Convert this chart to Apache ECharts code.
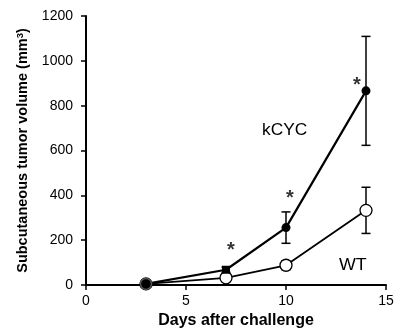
<!DOCTYPE html>
<html><head><meta charset="utf-8">
<script src="https://cdn.jsdelivr.net/npm/echarts@6/dist/echarts.min.js"></script>
<style>html,body{margin:0;padding:0;background:#fff}#c{width:395px;height:329px}</style>
</head><body><div id="c"></div>
<script>
var days = [3, 7, 10, 14];
var kcycMean = [5, 68, 256, 866];
var kcycErr = [3, 12, 70, 243];
var wtMean = [5, 32, 88, 333];
var wtErr = [3, 8, 20, 103];
var starX = [7.25, 10.2, 13.55];
var starY = [153, 388, 890];
var xTicks = [0, 5, 10, 15];
var yTicks = [0, 200, 400, 600, 800, 1000, 1200];

var chart = echarts.init(document.getElementById('c'), null, {renderer: 'canvas'});
var font = 'Liberation Sans, Arial, sans-serif';

function errData(mean, err) {
  return days.map(function (d, i) { return [d, mean[i] - err[i], mean[i] + err[i]]; });
}
function errSeries(mean, err) {
  return {
    type: 'custom', z: 1,
    data: errData(mean, err),
    renderItem: function (params, api) {
      var x = api.value(0);
      var lo = api.coord([x, api.value(1)]);
      var hi = api.coord([x, api.value(2)]);
      var w = 4.5;
      var st = {stroke: '#000', lineWidth: 1.5};
      return {type: 'group', children: [
        {type: 'line', shape: {x1: lo[0], y1: lo[1], x2: hi[0], y2: hi[1]}, style: st},
        {type: 'line', shape: {x1: lo[0] - w, y1: lo[1], x2: lo[0] + w, y2: lo[1]}, style: st},
        {type: 'line', shape: {x1: hi[0] - w, y1: hi[1], x2: hi[0] + w, y2: hi[1]}, style: st}
      ]};
    }
  };
}

var kcycData = days.map(function (d, i) {
  var p = {value: [d, kcycMean[i]]};
  if (d === 7) { p.symbol = 'rect'; p.symbolSize = 8; }
  if (d === 3) { p.symbolSize = 11; p.itemStyle = {color: '#000', borderColor: '#555', borderWidth: 1.5}; }
  return p;
});
var wtData = days.map(function (d, i) { return [d, wtMean[i]]; });
var starData = starX.map(function (x, i) { return [x, starY[i]]; });

chart.setOption({
  animation: false,
  backgroundColor: '#fff',
  grid: {left: 86, right: 9, top: 16, bottom: 44, containLabel: false, outerBoundsMode: 'none'},
  xAxis: {
    type: 'value', min: 0, max: 15, interval: 5,
    name: 'Days after challenge', nameLocation: 'middle', nameGap: 24,
    nameTextStyle: {fontFamily: font, fontSize: 16, fontWeight: 'bold', color: '#000', verticalAlign: 'top'},
    axisLine: {lineStyle: {color: '#000', width: 2}},
    axisTick: {show: true, length: 5, lineStyle: {color: '#000', width: 1.5}},
    axisLabel: {fontFamily: font, fontSize: 14, color: '#000', margin: 9,
      formatter: function (v) { return xTicks.indexOf(v) >= 0 ? String(v) : ''; }},
    splitLine: {show: false}
  },
  yAxis: {
    type: 'value', min: 0, max: 1200, interval: 200,
    name: 'Subcutaneous tumor volume (mm{s|3})', nameLocation: 'middle', nameGap: 53,
    nameTextStyle: {fontFamily: font, fontSize: 14.5, fontWeight: 'bold', color: '#000',
      rich: {s: {fontFamily: font, fontSize: 9.5, fontWeight: 'bold', color: '#000', verticalAlign: 'top', padding: [0, 0, 6, 0]}}},
    axisLine: {show: true, lineStyle: {color: '#000', width: 2}},
    axisTick: {show: true, length: 5, lineStyle: {color: '#000', width: 1.5}},
    axisLabel: {fontFamily: font, fontSize: 14, color: '#000', margin: 13,
      formatter: function (v) { return yTicks.indexOf(v) >= 0 ? String(v) : ''; }},
    splitLine: {show: false}
  },
  series: [
    errSeries(wtMean, wtErr),
    errSeries(kcycMean, kcycErr),
    {
      type: 'line', name: 'WT', data: wtData, z: 3,
      symbol: 'circle', symbolSize: 12,
      lineStyle: {color: '#000', width: 1.8},
      itemStyle: {color: '#fff', borderColor: '#000', borderWidth: 1.3}
    },
    {
      type: 'line', name: 'kCYC', data: kcycData, z: 4,
      symbol: 'circle', symbolSize: 9,
      lineStyle: {color: '#000', width: 2.2},
      itemStyle: {color: '#000', borderColor: '#000', borderWidth: 0}
    },
    {
      type: 'scatter', data: starData, symbolSize: 0, z: 5,
      label: {show: true, position: 'inside', formatter: '*', fontFamily: font,
        fontSize: 20, fontWeight: 'bold', color: '#000'}
    }
  ],
  graphic: [
    {type: 'text', left: 262, top: 122, scaleX: 1.05, style: {text: 'kCYC', font: '16.5px Liberation Sans, Arial, sans-serif', fill: '#000'}},
    {type: 'text', left: 339, top: 257, scaleX: 1.08, style: {text: 'WT', font: '16.5px Liberation Sans, Arial, sans-serif', fill: '#000'}}
  ]
});
</script></body></html>
